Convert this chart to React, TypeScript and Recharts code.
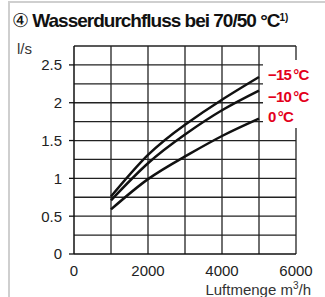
import React from "react";
import { LineChart, Line, XAxis, YAxis, ReferenceLine } from "recharts";

const airflow = [1000, 2000, 3000, 4000, 5000];
const minus15 = [0.76, 1.31, 1.71, 2.04, 2.34];
const minus10 = [0.71, 1.2, 1.58, 1.9, 2.16];
const zeroC = [0.59, 0.99, 1.29, 1.56, 1.79];

const xTicks = [0, 2000, 4000, 6000];
const yTicks = [0, 0.5, 1, 1.5, 2, 2.5];
const gridX = [1000, 2000, 3000, 4000, 5000, 6000];
const gridY = [0.25, 0.5, 0.75, 1, 1.25, 1.5, 1.75, 2, 2.25, 2.5, 2.75];
const seriesLabels = ["\u221215\u202f°C", "\u221210\u202f°C", "0\u202f°C"];

const data = airflow.map((x, i) => ({ x, m15: minus15[i], m10: minus10[i], z: zeroC[i] }));

const font = "'Liberation Sans', Arial, sans-serif";
const red = "#e3001b";

export default function App() {
  return (
    <div style={{ position: "absolute", left: 0, top: 0, width: 325, height: 297, background: "#fff", overflow: "hidden", fontFamily: font }}>
      <div style={{ position: "absolute", left: 8, top: 1, width: 330, height: 310, borderLeft: "2px solid #cfcfcf", borderTop: "2px solid #cfcfcf" }} />
      <div style={{ position: "absolute", left: 12, top: 9, fontSize: 19, fontWeight: "bold", letterSpacing: -1, color: "#111", whiteSpace: "nowrap" }}>
        <span style={{ fontWeight: "normal" }}>④</span> Wasserdurchfluss bei 70/50 °C<span style={{ fontSize: 10, verticalAlign: 6, letterSpacing: 0 }}>1)</span>
      </div>
      <div style={{ position: "absolute", left: 17, top: 40, fontSize: 15, color: "#333" }}>l/s</div>
      <LineChart width={325} height={297} data={data} margin={{ top: 46, right: 29, bottom: 23, left: 0 }}>
        {gridY.map((v) => (
          <ReferenceLine key={"gy" + v} y={v} stroke="#222" strokeWidth={1.3} />
        ))}
        {gridX.map((v) => (
          <ReferenceLine key={"gx" + v} x={v} stroke="#222" strokeWidth={1.3} />
        ))}
        <XAxis
          dataKey="x"
          type="number"
          domain={[0, 6000]}
          ticks={xTicks}
          height={20}
          axisLine={{ stroke: "#111", strokeWidth: 1.5 }}
          tickLine={false}
          tickSize={6}
          tickMargin={5}
          tick={{ fontSize: 15, fill: "#222", fontFamily: font }}
        />
        <YAxis
          type="number"
          domain={[0, 2.75]}
          ticks={yTicks}
          width={74}
          allowDataOverflow
          axisLine={{ stroke: "#111", strokeWidth: 1.5 }}
          tickLine={{ stroke: "#111", strokeWidth: 1.3 }}
          tickSize={5}
          tickMargin={7}
          tick={{ fontSize: 15, fill: "#222", fontFamily: font }}
        />
        <Line dataKey="m15" type="natural" stroke="#111" strokeWidth={2.5} dot={false} isAnimationActive={false} />
        <Line dataKey="m10" type="natural" stroke="#111" strokeWidth={2.5} dot={false} isAnimationActive={false} />
        <Line dataKey="z" type="natural" stroke="#111" strokeWidth={2.5} dot={false} isAnimationActive={false} />
      </LineChart>
      <div style={{ position: "absolute", left: 263, top: 60, width: 62, height: 68, background: "#fff" }} />
      {seriesLabels.map((t, i) => (
        <div key={t} style={{ position: "absolute", left: 268, top: [66, 88, 108][i], fontSize: 15, fontWeight: "bold", color: red, letterSpacing: -0.8, whiteSpace: "nowrap" }}>
          {t}
        </div>
      ))}
      <div style={{ position: "absolute", right: 14, top: 280, fontSize: 15, color: "#333", whiteSpace: "nowrap" }}>
        Luftmenge m<sup style={{ fontSize: 10 }}>3</sup>/h
      </div>
    </div>
  );
}
